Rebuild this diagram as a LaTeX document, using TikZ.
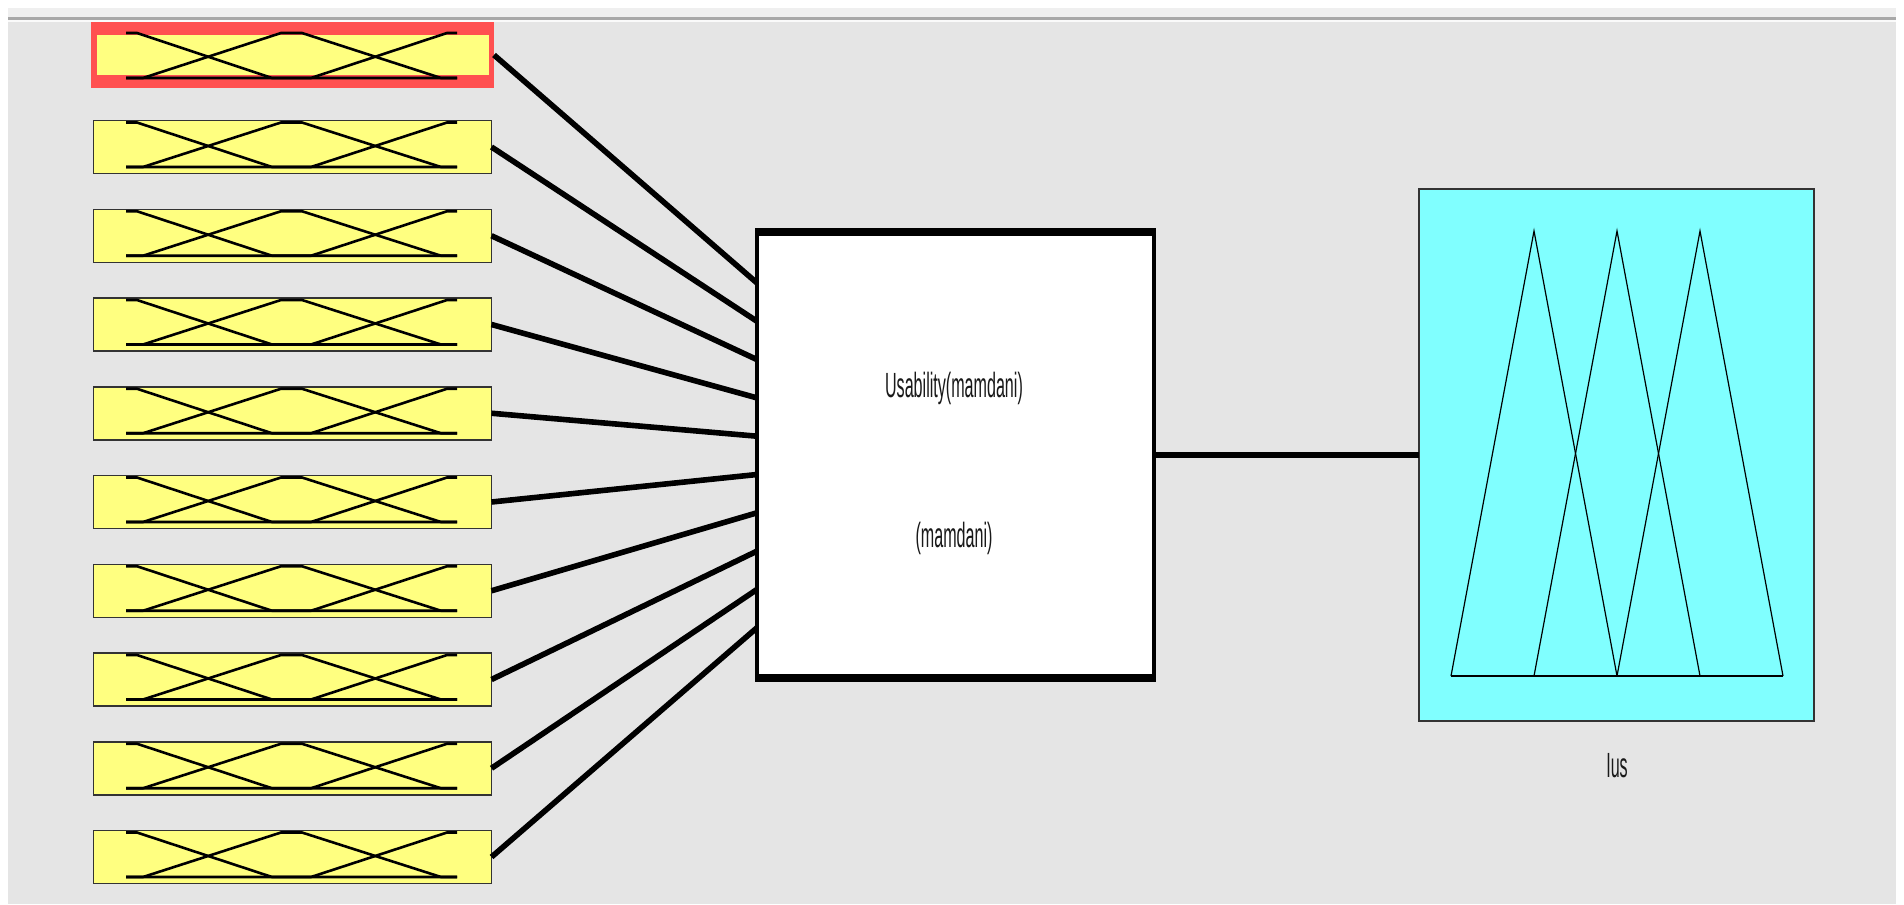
\documentclass[tikz,border=0pt]{standalone}
\usepackage{fontspec}
\setmainfont{Liberation Sans}
\definecolor{bggray}{HTML}{E5E5E5}
\definecolor{stripgray}{HTML}{EFEFEF}
\definecolor{linegray}{HTML}{A8A8A8}
\definecolor{myyellow}{HTML}{FFFF80}
\definecolor{myred}{HTML}{FF5050}
\definecolor{mycyan}{HTML}{80FFFF}
\begin{document}
\begin{tikzpicture}[x=0.5pt,y=-0.5pt,
  inbox/.style={draw=black!80, line width=0.75pt, fill=myyellow, minimum width=199pt, minimum height=26.5pt, inner sep=0pt, outer sep=0pt},
  selbox/.style={fill=myred, minimum width=201.5pt, minimum height=33pt, inner sep=0pt, outer sep=0pt},
  mf/.style={line width=1.3pt, black, line join=miter},
  conn/.style={line width=2.8pt, black},
  fisbox/.style={draw=black, line width=2pt, fill=white, minimum width=198.5pt, minimum height=225pt, inner sep=0pt, outer sep=0pt},
  outbox/.style={draw=black!80, line width=1pt, fill=mycyan, minimum width=197.5pt, minimum height=266pt, inner sep=0pt, outer sep=0pt},
  tri/.style={line width=0.6pt, black},
  lbl/.style={font=\fontsize{17.5}{20}\selectfont, text=black!90, inner sep=0pt, anchor=base}]
\useasboundingbox (0,0) rectangle (1904,904);
% background
\fill[white] (0,0) rectangle (1904,904);
\fill[stripgray] (8,8) rectangle (1896,17);
\fill[linegray] (8,17) rectangle (1896,20);
\fill[white!96!gray] (8,20) rectangle (1896,22);
\fill[bggray] (8,22) rectangle (1896,904);

% selected first input
\node[selbox] (in1) at (292.5,55) {};
\fill[myyellow] (97,35) rectangle (489,75);
\draw[mf] (126,33) -- (137,33) -- (272,78) -- (457,78);
\draw[mf] (126,78) -- (143,78) -- (281,33) -- (302,33) -- (441,78) -- (457,78);
\draw[mf] (126,78) -- (311,78) -- (447,33) -- (457,33);

% other inputs
\foreach \k in {2,...,10}{
  \pgfmathsetmacro{\tp}{120+(\k-2)*88.75}
  \pgfmathsetmacro{\T}{\tp+2.5}
  \pgfmathsetmacro{\B}{\tp+47}
  \node[inbox] (in\k) at (292.5,\tp+27) {};
  \draw[mf] (126,\T) -- (137,\T) -- (272,\B) -- (457,\B);
  \draw[mf] (126,\B) -- (143,\B) -- (281,\T) -- (302,\T) -- (441,\B) -- (457,\B);
  \draw[mf] (126,\B) -- (311,\B) -- (447,\T) -- (457,\T);
}

% FIS block
\node[fisbox] (fis) at (955.5,455) {};
\fill[black] (755,228) rectangle (1156,236);
\fill[black] (755,674) rectangle (1156,682);
\node[lbl] (title) at (954,397) {\scalebox{0.46}[1]{Usability(mamdani)}};
\node[lbl] (type) at (954,547) {\scalebox{0.46}[1]{(mamdani)}};

% connector end points on the FIS block
\foreach \k in {1,...,10}{
  \pgfmathsetmacro{\ey}{283+(\k-1)*38.3}
  \coordinate (e\k) at (757,\ey);
}
\foreach \k in {1,...,10}{
  \draw[conn] (in\k.east) -- (e\k);
}

% output
\node[outbox] (out) at (1616.5,455) {};
\draw[conn, line width=3.2pt] (fis.east) -- (out.west);
\draw[tri] (1451,676) -- (1534,231) -- (1617,676);
\draw[tri] (1534,676) -- (1617,231) -- (1700,676);
\draw[tri] (1617,676) -- (1700,231) -- (1783,676);
\draw[tri] (1451,676) -- (1783,676);
\node[lbl] (outname) at (1617,777) {\scalebox{0.46}[1]{Ius}};
\end{tikzpicture}
\end{document}
